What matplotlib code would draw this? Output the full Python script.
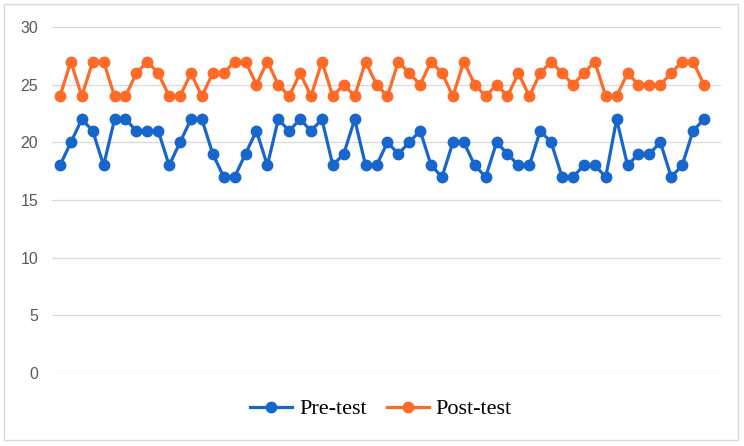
import matplotlib.pyplot as plt
import numpy as np

# ----------------------------
# Data
# ----------------------------
pre_test = [18, 20, 22, 21, 18, 22, 22, 21, 21, 21, 18, 20, 22, 22, 19, 17, 17, 19, 21, 18,
            22, 21, 22, 21, 22, 18, 19, 22, 18, 18, 20, 19, 20, 21, 18, 17, 20, 20, 18, 17,
            20, 19, 18, 18, 21, 20, 17, 17, 18, 18, 17, 22, 18, 19, 19, 20, 17, 18, 21, 22]
post_test = [24, 27, 24, 27, 27, 24, 24, 26, 27, 26, 24, 24, 26, 24, 26, 26, 27, 27, 25, 27,
             25, 24, 26, 24, 27, 24, 25, 24, 27, 25, 24, 27, 26, 25, 27, 26, 24, 27, 25, 24,
             25, 24, 26, 24, 26, 27, 26, 25, 26, 27, 24, 24, 26, 25, 25, 25, 26, 27, 27, 25]
y_ticks = [0, 5, 10, 15, 20, 25, 30]

BLUE = "#1766cc"
ORANGE = "#ff6a26"

x = np.arange(len(pre_test))

# ----------------------------
# Figure
# ----------------------------
fig = plt.figure(figsize=(7.44, 4.46), dpi=100)
ax = fig.add_axes([52 / 744, 1 - 373 / 446, (721 - 52) / 744, (373 - 27) / 446])

ax.plot(x, pre_test, color=BLUE, linewidth=2.3, marker="o", markersize=7.5, label="Pre-test")
ax.plot(x, post_test, color=ORANGE, linewidth=2.3, marker="o", markersize=7.5, label="Post-test")

ax.set_ylim(0, 30)
ax.set_xlim(-0.73, 60.56)
ax.set_yticks(y_ticks)
ax.set_xticks([])
ax.grid(axis="y", color="#d9d9d9", linewidth=0.9)
ax.set_axisbelow(True)
for s in ax.spines.values():
    s.set_visible(False)
ax.tick_params(axis="y", length=0, pad=10, labelsize=11.5, labelcolor="#595959")
for lbl in ax.get_yticklabels():
    lbl.set_fontfamily("Liberation Sans")

leg = fig.legend(loc="center", bbox_to_anchor=(381 / 744, 1 - 409 / 446), ncol=2, frameon=False,
                 prop={"family": "Liberation Serif", "size": 16}, handlelength=1.9,
                 columnspacing=0.9, handletextpad=0.3)

# outer frame
fig.patches.append(plt.Rectangle((4 / 744, 6 / 446), 734 / 744, 436 / 446, transform=fig.transFigure,
                                 fill=False, edgecolor="#d9d9d9", linewidth=1))

plt.savefig("out.png", dpi=100)
